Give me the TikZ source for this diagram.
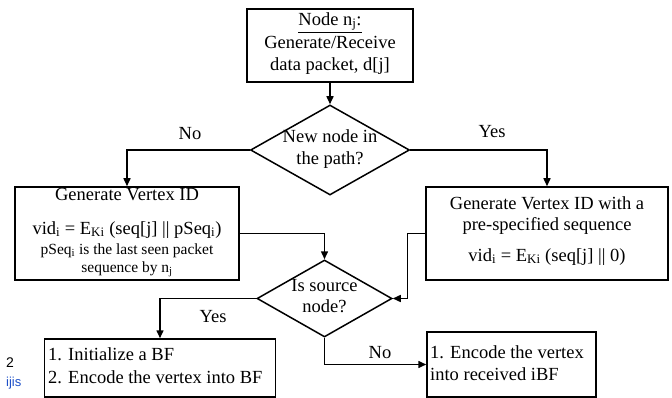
\documentclass[tikz,border=0pt]{standalone}
\usepackage{fontspec}
\setmainfont{Liberation Serif}
\newfontfamily\sansf{Liberation Sans}
\usetikzlibrary{shapes.geometric,arrows.meta}
\begin{document}
\begin{tikzpicture}[x=1pt,y=-1pt,
  bx/.style={draw,line width=1.5pt,rectangle,inner sep=0pt},
  dm/.style={draw,line width=1.5pt,diamond,inner sep=0pt},
  txt/.style={inner sep=0pt,anchor=mid,font=\fontsize{18.5}{20}\selectfont},
  stxt/.style={inner sep=0pt,anchor=mid,font=\fontsize{15.5}{18}\selectfont},
  ltxt/.style={inner sep=0pt,anchor=mid west,font=\fontsize{18.5}{20}\selectfont},
  lbl/.style={inner sep=0pt,anchor=mid,font=\fontsize{18.5}{20}\selectfont},
  conn/.style={line width=1.5pt,-{Triangle[length=8pt,width=7pt]}}]
\useasboundingbox (0,0) rectangle (672,398);
% boxes
\node[bx,minimum width=166pt,minimum height=73pt] (top) at (330,45.5) {};
\node[dm,minimum width=159pt,minimum height=90pt] (d1) at (330,150) {};
\node[bx,minimum width=224pt,minimum height=93pt] (lbox) at (127,233.5) {};
\node[bx,minimum width=242pt,minimum height=93pt] (rbox) at (547,233.5) {};
\node[dm,minimum width=135pt,minimum height=77pt] (d2) at (324.5,298.5) {};
\node[bx,minimum width=231pt,minimum height=58pt] (blbox) at (160,368) {};
\node[bx,minimum width=169pt,minimum height=65pt] (brbox) at (511.5,364.5) {};
% texts
\node[txt] (t1a) at (330,23) {\underline{Node n\textsubscript{j}:}};
\node[txt] (t1b) at (330,46) {Generate/Receive};
\node[txt] (t1c) at (330,68) {data packet, d[j]};
\node[txt] (d1a) at (330,140) {New node in};
\node[txt] (d1b) at (330,162) {the path?};
\node[txt] (l1) at (127,198) {Generate Vertex ID};
\node[txt] (l2) at (127,232) {vid\textsubscript{i} = E\textsubscript{Ki} (seq[j] || pSeq\textsubscript{i})};
\node[stxt] (l3) at (127,252) {pSeq\textsubscript{i} is the last seen packet};
\node[stxt] (l4) at (127,270) {sequence by n\textsubscript{j}};
\node[txt] (r1) at (547,207) {Generate Vertex ID with a};
\node[txt] (r2) at (547,228) {pre-specified sequence};
\node[txt] (r3) at (547,259) {vid\textsubscript{i} = E\textsubscript{Ki} (seq[j] || 0)};
\node[txt] (d2a) at (324.5,289) {Is source};
\node[txt] (d2b) at (324.5,310) {node?};
\node[ltxt] (b1) at (48,358) {1. Initialize a BF};
\node[ltxt] (b2) at (48,381) {2. Encode the vertex into BF};
\node[ltxt] (c1) at (430,356) {1. Encode the vertex};
\node[ltxt] (c2) at (430,378) {into received iBF};
% labels
\node[lbl] (no1) at (190,137) {No};
\node[lbl] (yes1) at (492,135) {Yes};
\node[lbl] (yes2) at (213,320) {Yes};
\node[lbl] (no2) at (380,356) {No};
% stray page text
\node[inner sep=0pt,anchor=mid west,font=\sansf\fontsize{14}{16}\selectfont] (s1) at (6,365) {2};
\node[inner sep=0pt,anchor=mid west,font=\sansf\fontsize{13}{15}\selectfont,text={rgb,255:red,30;green,80;blue,200}] (s2) at (6,384) {ijis};
% connectors
\draw[conn] (top.south) -- (d1.north);
\draw[conn] (d1.west) -| (lbox.north);
\draw[conn] (d1.east) -| (rbox.north);
\draw[conn] (lbox.east) -| (d2.north);
\draw[conn] (rbox.west) -- ++(-18,0) |- (d2.east);
\draw[conn] (d2.west) -| (blbox.north);
\draw[conn] (d2.south) |- (brbox.west);
\end{tikzpicture}
\end{document}
